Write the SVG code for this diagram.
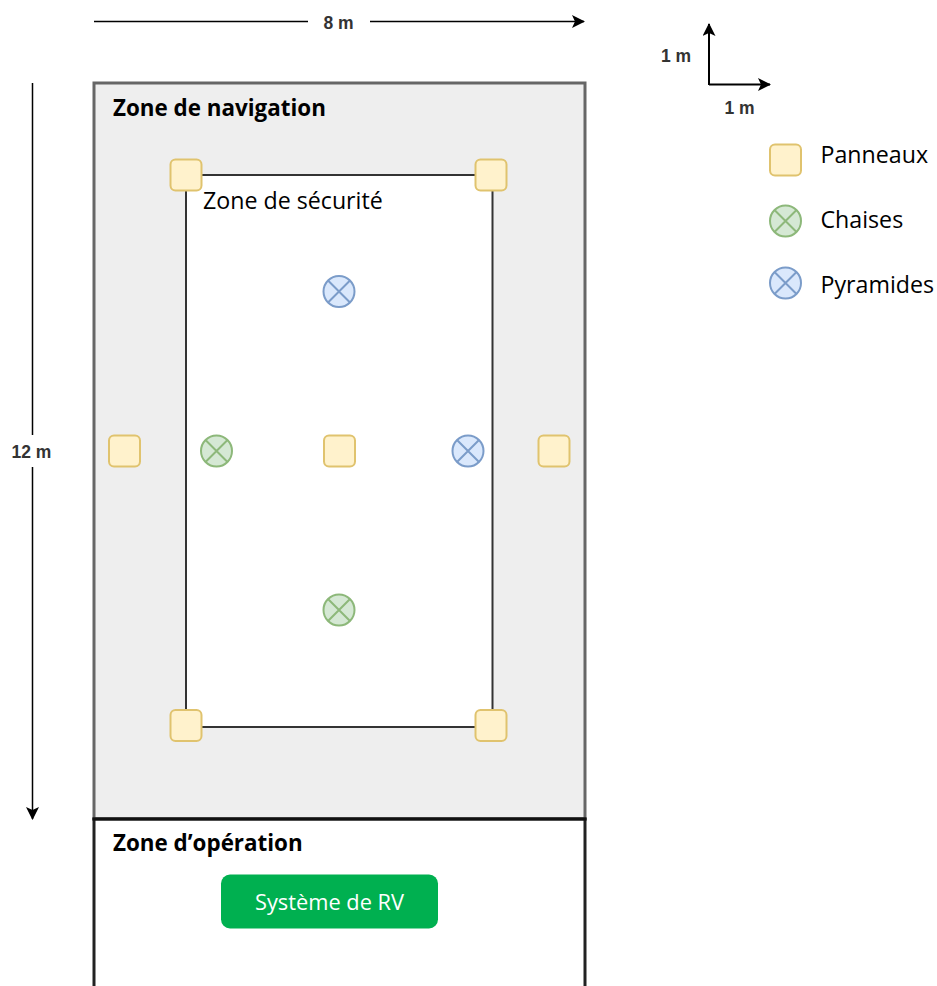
<svg xmlns="http://www.w3.org/2000/svg" width="937" height="986" viewBox="0 0 937 986">
<style>
text{font-family:"Open Sans","Noto Sans","Liberation Sans",sans-serif;fill:#000}
.h{font-size:22.4px;font-weight:700}
.t{font-size:23.2px}
.s{font-size:21.8px}
.d{font-family:"Liberation Sans",Arial,sans-serif;font-size:17.500px;font-weight:700;fill:#333;text-anchor:middle}
.p{fill:#fff2cc;stroke:#e0c36e;stroke-width:2}
.c{stroke-width:2}
.g{fill:#d5e8d4;stroke:#8db87a}
.b{fill:#dae8fc;stroke:#7b9cc9}
.ln{fill:none;stroke:#000;stroke-width:1.5}
</style>
<defs>
<marker id="ah" markerUnits="userSpaceOnUse" markerWidth="14" markerHeight="14" refX="12" refY="6.5" orient="auto"><path d="M0 0L13 6.5L0 13L3 6.5Z" fill="#000"/></marker>
</defs>
<rect width="937" height="986" fill="#fff"/>
<g id="zone-navigation">
<rect x="94" y="83" width="491" height="736" fill="#eeeeee" stroke="#666" stroke-width="3"/>
<text class="h" x="113" y="116">Zone de navigation</text>
</g>
<g id="zone-operation">
<path d="M94 986V819H585V986" fill="#fff" stroke="#222" stroke-width="3"/>
<path d="M92.500 819H586.500" stroke="#111" stroke-width="3"/>
<text class="h" x="113" y="851">Zone d’opération</text>
</g>
<g id="zone-securite">
<rect x="186" y="175" width="306.500" height="552" fill="#fff" stroke="#333" stroke-width="2"/>
<text class="t" x="203" y="209">Zone de sécurité</text>
</g>
<g id="connectors">
<path class="ln" d="M94 21.500H308"/>
<path class="ln" d="M370 21.500H584" marker-end="url(#ah)"/>
<path class="ln" d="M32.500 83V435"/>
<path class="ln" d="M32.500 467V819" marker-end="url(#ah)"/>
<path class="ln" style="stroke-width:2" d="M709 85V24" marker-end="url(#ah)"/>
<path class="ln" style="stroke-width:2" d="M709 84.500H770" marker-end="url(#ah)"/>
</g>
<g id="dim-8m"><text class="d" x="338.500" y="29">8 m</text></g>
<g id="dim-12m"><text class="d" x="31.500" y="458">12 m</text></g>
<g id="scale-y"><text class="d" x="676" y="62">1 m</text></g>
<g id="scale-x"><text class="d" x="739.500" y="114">1 m</text></g>
<g id="panneau-1"><rect class="p" x="170.500" y="159.500" width="31" height="31" rx="5"/></g>
<g id="panneau-2"><rect class="p" x="475.500" y="159.500" width="31" height="31" rx="5"/></g>
<g id="panneau-3"><rect class="p" x="109" y="435.500" width="31" height="31" rx="5"/></g>
<g id="panneau-4"><rect class="p" x="324" y="435.500" width="31" height="31" rx="5"/></g>
<g id="panneau-5"><rect class="p" x="538.500" y="435.500" width="31" height="31" rx="5"/></g>
<g id="panneau-6"><rect class="p" x="170.500" y="710" width="31" height="31" rx="5"/></g>
<g id="panneau-7"><rect class="p" x="475.500" y="710" width="31" height="31" rx="5"/></g>
<g id="pyramide-1"><circle class="c b" cx="339" cy="291.500" r="15.500"/><path class="c b" d="M328 280.500L350 302.500M328 302.500L350 280.500"/></g>
<g id="chaise-1"><circle class="c g" cx="216.500" cy="451" r="15.500"/><path class="c g" d="M205.500 440L227.500 462M205.500 462L227.500 440"/></g>
<g id="pyramide-2"><circle class="c b" cx="468" cy="451" r="15.500"/><path class="c b" d="M457 440L479 462M457 462L479 440"/></g>
<g id="chaise-2"><circle class="c g" cx="339" cy="610" r="15.500"/><path class="c g" d="M328 599L350 621M328 621L350 599"/></g>
<g id="systeme-rv">
<rect x="221" y="874.500" width="217" height="54" rx="9" fill="#00b050"/>
<text class="s" x="329.500" y="910" text-anchor="middle" style="fill:#fff">Système de RV</text>
</g>
<g id="legend-panneaux"><rect class="p" x="770" y="144.500" width="31" height="31" rx="5"/><text class="t" x="820.500" y="163">Panneaux</text></g>
<g id="legend-chaises"><circle class="c g" cx="785.500" cy="221" r="15.500"/><path class="c g" d="M774.500 210L796.500 232M774.500 232L796.500 210"/><text class="t" x="820.500" y="228">Chaises</text></g>
<g id="legend-pyramides"><circle class="c b" cx="785.500" cy="283" r="15.500"/><path class="c b" d="M774.500 272L796.500 294M774.500 294L796.500 272"/><text class="t" x="820.500" y="293">Pyramides</text></g>
</svg>
